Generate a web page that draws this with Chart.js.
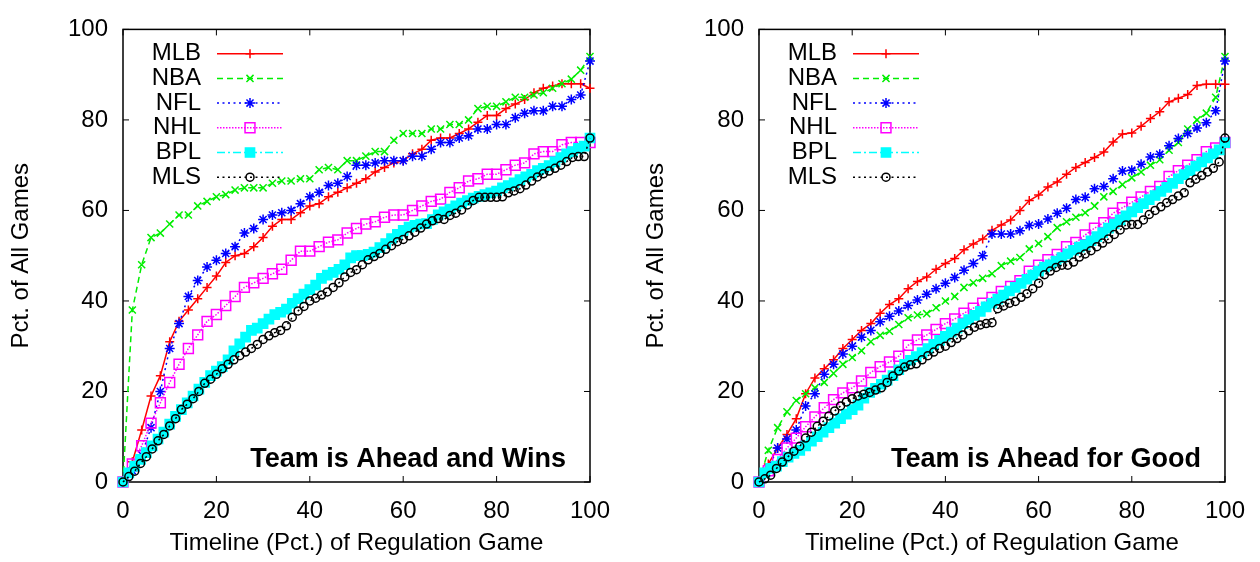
<!DOCTYPE html>
<html>
<head>
<meta charset="utf-8">
<script src="https://cdn.jsdelivr.net/npm/chart.js@4.4.1/dist/chart.umd.min.js"></script>
<style>
  html, body { margin: 0; padding: 0; background: #fff; }
  #wrap { display: flex; width: 1260px; height: 562px; }
  canvas { display: block; }
</style>
</head>
<body>
<div id="wrap">
  <canvas id="chart-wins" width="630" height="562"></canvas>
  <canvas id="chart-good" width="630" height="562"></canvas>
</div>
<script>
// Timeline positions (pct. of regulation game)
const timeline2 = [0,2,4,6,8,10,12,14,16,18,20,22,24,26,28,30,32,34,36,38,40,42,44,46,48,50,
  52,54,56,58,60,62,64,66,68,70,72,74,76,78,80,82,84,86,88,90,92,94,96,98,100];
const timelineSoccer = [0,1.25,2.5,3.75,5,6.25,7.5,8.75,10,11.25,12.5,13.75,15,16.25,17.5,18.75,
  20,21.25,22.5,23.75,25,26.25,27.5,28.75,30,31.25,32.5,33.75,35,36.25,37.5,38.75,
  40,41.25,42.5,43.75,45,46.25,47.5,48.75,50,51.25,52.5,53.75,55,56.25,57.5,58.75,
  60,61.25,62.5,63.75,65,66.25,67.5,68.75,70,71.25,72.5,73.75,75,76.25,77.5,78.75,
  80,81.25,82.5,83.75,85,86.25,87.5,88.75,90,91.25,92.5,93.75,95,96.25,97.5,98.75,100];
const axisTicks = [0, 20, 40, 60, 80, 100];

// "Team is Ahead and Wins"
const mlbWins = [0,4.5,11.5,19,23.5,31,35.5,38,40.5,43,45.5,48.5,50,50.5,52,54,56.5,58,58,59.5,
  61,61.5,63,64,65,66,67,68.5,69.5,70.5,71,72.5,73.5,75.5,76,76,77,78,79.5,81,81,82.5,83.5,84.5,
  86,87,87.5,88,88,88,87];
const nbaWins = [0,38,48,54,55,57,59,59,61,62,63,63.5,64.5,65,65,65,66,66.5,66.5,67,67,69,69.5,69,
  71,71,72,73,73,75.5,77,77,77,78,78,79,79,80,82.5,83,83,84,85,85,85.5,86,87,88,89,91,94];
const nflWins = [0,2.5,6,12,20,29.5,35,41,44.5,47.5,49,50.5,52,55,56,58,59,59.5,60,61.5,63,64,65.5,
  66,67.5,70,70,70.5,71,71,71,72,72,73.5,75,75,76,76.5,78,78,79,79,80.5,81.5,82,82,83,83,84.5,85.5,93];
const nhlWins = [0,4,8,13,17.5,22,26,29.5,32.5,35.5,37,39,41,43,44,45,46,47,49,51,51,52,53,53.5,55,
  56,57,57.5,58.5,59,59,60,61,62,62.5,64,65,66.5,67,68,68,69,70,70.5,72.5,73,73,74.5,75,75,75];
const bplWins = [0,2,3.5,5,6.5,8,9.5,11,12.8,14.5,16,17.5,19,20.5,22,23.5,24.5,25.5,27,29,
  30.5,32,33.5,34,35,36,37,37.5,38.2,39.5,40.5,41.5,42.5,43.5,45,45.7,46.3,47,48,49.5,
  50,50,50.3,50.8,51.8,52.7,53.8,54.7,55.6,56.3,56.7,57,57.1,58,59,59.7,60.3,61,61.6,62.2,
  62.7,63.1,63.5,63.9,64.3,65,65.5,66.1,66.8,67.4,68,68.8,69.3,69.9,70.8,71.7,72.5,73,73.7,74.2,76];
const mlsWins = [0,1.2,2.4,4.1,5.6,7.3,9.1,10.5,12.4,14,16,17.2,18.4,20,21.8,22.7,23.8,25,26,27,
  27.9,28.7,29.5,30.4,31.5,32.3,33,33.5,34.5,36.4,37.8,38.8,40,40.6,41.3,42,43,44,45.3,46.3,
  46.9,48,49.1,49.8,50.5,51.4,52.2,53.1,53.6,54.4,55.2,56.1,57,57.7,58.2,58,58.9,59.4,60.1,61.2,
  62.2,62.9,62.9,62.9,62.9,63,63.9,64.3,64.8,65.6,66.5,67.4,68.1,68.7,69.3,70,70.8,71.7,71.9,71.9,76];

// "Team is Ahead for Good"
const mlbGood = [0,4,7.5,10.5,14,19.5,23,25,27,29.5,31.5,33.5,35,37.3,39.2,40.5,42.7,44.3,45.3,47,
  48.3,49.4,51.3,52.6,53.7,55.6,56.8,57.9,60,62.2,63.4,65.2,66.3,68,69.5,70.6,71.7,72.9,75.1,76.9,
  77.1,78.6,80.3,81.8,84,84.8,85.6,87.6,87.9,87.9,87.9];
const nbaGood = [0,7,12,15.5,18,19.5,20.8,22,24,26,27.5,29,31,32.4,33.3,34.8,36.3,36.9,37.2,38.5,
  40,41,43,44,45,46,47.8,48.8,49.6,51.5,52.7,54.2,56.2,57.5,58.5,59.5,61,63,64.2,65.7,
  67.2,68.5,70,71.2,73.3,75,78,80,81.5,85,94];
const nflGood = [0,3,7.5,9.5,11.5,16.8,19.5,23.8,26,28.3,30,32,33.5,35.4,36.6,37.8,39,40.2,41.5,42.7,
  43.9,45.2,46.8,48.3,50,54.8,54.8,54.8,55.5,56.7,57,58.1,59.4,60.5,62.4,62.9,64.8,65.3,67,68.7,
  68.9,70.2,71.8,72.4,74.3,75.9,77,78.2,79.4,82,93];
const nhlGood = [0,2.5,5,7.5,9.7,12.2,14.4,16.4,18.2,19.7,20.8,22.3,24.2,25.5,26.5,27.8,30.2,31.4,32.5,33.7,
  35,36,37.3,38.4,39.5,40.8,42.1,43.2,44.5,46.6,47.9,49.1,50.3,52,52.9,54.6,56.1,57.3,59.4,60.6,
  61.8,63,64.2,65.3,67.5,68.8,70,71.2,73,73.8,75];
const bplGood = [0,2,3,3.5,4.5,5.5,6.3,7,8,9,10,11,12,13,14,15,16,17,18.5,19.8,
  20.7,21.6,22.5,23.5,24.8,26,26.9,27.7,28.6,29.5,30.4,31.3,32.2,33.1,34,35,35.9,36.8,37.7,38.7,
  39.5,40.4,41.3,42.2,43,43.9,44.8,45.7,46.6,47.5,48,48.8,49.6,50.4,51.2,51.9,52.4,53.3,54.2,55.1,
  56.1,57,57.9,58.8,59.7,60.6,61.5,62.4,63.3,64.2,65.1,66,67,67.9,68.8,69.8,70.7,71.6,72.5,73.4,75];
const mlsGood = [0,0.7,1.5,3,4.4,5.6,6.8,7.9,9.7,11,12.3,13.4,14.6,15.7,16.8,17.7,18.4,19,19.4,19.8,
  20.3,20.8,22,23.4,24.5,25.4,25.9,26.1,27,27.9,28.7,29.5,30,30.8,31.7,32.5,33.4,34.2,34.7,35,
  35.2,38.3,38.9,39.5,39.9,40.8,41.6,42.7,43.9,45.8,46.6,47.4,47.9,47.9,48.6,49.7,50.4,51.1,52,52.8,
  53.7,54.7,55.7,56.8,56.9,56.9,57.9,59.1,60,60.8,61.7,62.4,63.2,63.9,66.1,66.9,67.7,68.5,69.3,70.7,76];

const FONT = '"Liberation Sans", Arial, Helvetica, sans-serif';
Chart.defaults.font.family = FONT;
Chart.defaults.color = '#000';

// line / marker look per league
const styles = {
  MLB: { color: '#ff0000', dash: [], point: 'cross', r: 4.5, fill: '#ff0000' },
  NBA: { color: '#00ee00', dash: [6, 4], point: 'crossRot', r: 5, fill: '#00ee00' },
  NFL: { color: '#0000ff', dash: [2, 3.5], point: 'star', r: 5, fill: '#0000ff' },
  NHL: { color: '#ff00ff', dash: [1.5, 1.5], point: 'rect', r: 7, fill: 'rgba(0,0,0,0)' },
  BPL: { color: '#00ffff', dash: [8, 3, 2, 3], point: 'rect', r: 6.5, fill: '#00ffff' },
  MLS: { color: '#000000', dash: [2, 3.5], point: 'circle', r: 4, fill: 'rgba(0,0,0,0)' }
};

const series = (label, xs, ys, idx) => {
  const s = styles[label];
  return {
    label: label,
    data: xs.map((x, i) => ({ x: x, y: ys[i] })),
    borderColor: s.color,
    borderWidth: 1.5,
    borderDash: s.dash,
    pointStyle: s.point,
    pointRadius: s.r,
    pointHoverRadius: s.r,
    pointBorderColor: s.color,
    pointBackgroundColor: s.fill,
    pointBorderWidth: 1.5,
    tension: 0,
    fill: false,
    clip: false,
    order: 6 - idx
  };
};

// box around the plot with inward ticks on all sides
const framePlugin = {
  id: 'frame',
  beforeDatasetsDraw(chart) {
    const { ctx, chartArea: a, scales: { x, y } } = chart;
    ctx.save();
    ctx.strokeStyle = '#000';
    ctx.lineWidth = 1.5;
    ctx.strokeRect(a.left, a.top, a.right - a.left, a.bottom - a.top);
    ctx.lineWidth = 1;
    ctx.beginPath();
    x.ticks.forEach(t => {
      const px = x.getPixelForValue(t.value);
      ctx.moveTo(px, a.bottom); ctx.lineTo(px, a.bottom - 6);
      ctx.moveTo(px, a.top); ctx.lineTo(px, a.top + 6);
    });
    y.ticks.forEach(t => {
      const py = y.getPixelForValue(t.value);
      ctx.moveTo(a.left, py); ctx.lineTo(a.left + 6, py);
      ctx.moveTo(a.right, py); ctx.lineTo(a.right - 6, py);
    });
    ctx.stroke();
    ctx.restore();
  }
};

// legend (label left of sample) and the corner caption
const keyPlugin = {
  id: 'key',
  afterDatasetsDraw(chart, args, opts) {
    const { ctx, chartArea: a } = chart;
    ctx.save();
    ctx.font = '24px ' + FONT;
    ctx.textBaseline = 'middle';
    ctx.textAlign = 'right';
    chart.data.datasets.forEach((ds, i) => {
      const yy = a.top + 24.3 + i * 24.7;
      ctx.fillStyle = '#000';
      ctx.fillText(ds.label, a.left + 78, yy);
      ctx.strokeStyle = ds.borderColor;
      ctx.lineWidth = ds.borderWidth;
      ctx.setLineDash(ds.borderDash);
      ctx.beginPath();
      ctx.moveTo(a.left + 94, yy);
      ctx.lineTo(a.left + 160, yy);
      ctx.stroke();
      ctx.setLineDash([]);
      ctx.fillStyle = ds.pointBackgroundColor;
      ctx.strokeStyle = ds.pointBorderColor;
      ctx.lineWidth = ds.pointBorderWidth;
      Chart.helpers.drawPoint(ctx, {
        pointStyle: ds.pointStyle, radius: ds.pointRadius, rotation: 0, borderWidth: ds.pointBorderWidth
      }, a.left + 127, yy);
    });
    ctx.fillStyle = '#000';
    ctx.font = 'bold 27px ' + FONT;
    ctx.textAlign = 'right';
    ctx.textBaseline = 'alphabetic';
    ctx.fillText(opts.text, a.right - 24, a.bottom - 15);
    ctx.restore();
  }
};

const makeChart = (id, caption, data, padLeft, padRight, yWidth) => {
  const labels = ['MLB', 'NBA', 'NFL', 'NHL', 'BPL', 'MLS'];
  const xsFor = { MLB: timeline2, NBA: timeline2, NFL: timeline2, NHL: timeline2, BPL: timelineSoccer, MLS: timelineSoccer };
  const config = {
    type: 'line',
    data: {
      datasets: labels.map((l, i) => series(l, xsFor[l], data[i], i))
    },
    options: {
      responsive: false,
      animation: false,
      events: [],
      layout: { padding: { left: padLeft, right: padRight, top: 15, bottom: 0 } },
      plugins: {
        legend: { display: false },
        tooltip: { enabled: false },
        key: { text: caption }
      },
      scales: {
        x: {
          type: 'linear', min: 0, max: 100,
          afterBuildTicks: s => { s.ticks = axisTicks.map(v => ({ value: v })); },
          afterFit: s => { s.height = 80; },
          grid: { display: false, drawTicks: false },
          border: { display: false },
          ticks: { font: { size: 24 }, color: '#000', padding: 15 },
          title: { display: true, text: 'Timeline (Pct.) of Regulation Game', font: { size: 24 }, color: '#000', padding: { top: 0, bottom: 4 } }
        },
        y: {
          type: 'linear', min: 0, max: 100,
          afterBuildTicks: s => { s.ticks = axisTicks.map(v => ({ value: v })); },
          afterFit: s => { s.width = yWidth; },
          grid: { display: false, drawTicks: false },
          border: { display: false },
          ticks: { font: { size: 24 }, color: '#000', padding: 15 },
          title: { display: true, text: 'Pct. of All Games', font: { size: 24 }, color: '#000', padding: { top: 6.5, bottom: 0 } }
        }
      }
    },
    plugins: [framePlugin, keyPlugin]
  };
  return new Chart(document.getElementById(id), config);
};

makeChart('chart-wins', 'Team is Ahead and Wins', [mlbWins, nbaWins, nflWins, nhlWins, bplWins, mlsWins], 0, 40, 123);
makeChart('chart-good', 'Team is Ahead for Good', [mlbGood, nbaGood, nflGood, nhlGood, bplGood, mlsGood], 5, 35, 124);
</script>
</body>
</html>
